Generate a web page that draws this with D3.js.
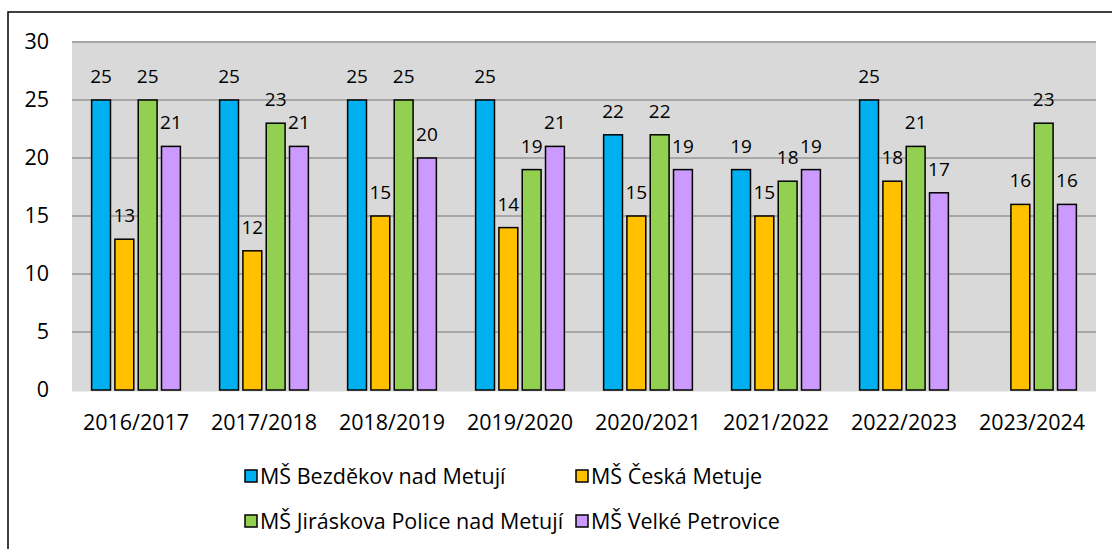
<!DOCTYPE html>
<html>
<head>
<meta charset="utf-8">
<script src="https://cdn.jsdelivr.net/npm/d3@7"></script>
<style>
  body { margin: 0; background: #fff; }
  svg { display: block; font-family: "Open Sans", sans-serif; }
</style>
</head>
<body>
<svg id="chart" width="1112" height="549"></svg>
<script>
// school years on the x axis
var years = ['2016/2017', '2017/2018', '2018/2019', '2019/2020',
             '2020/2021', '2021/2022', '2022/2023', '2023/2024'];

// one array per kindergarten (null = no bar)
var bezdekov = [25, 25, 25, 25, 22, 19, 25, null];
var ceskaMetuje = [13, 12, 15, 14, 15, 15, 18, 16];
var jiraskova = [25, 23, 25, 19, 22, 18, 21, 23];
var velkePetrovice = [21, 21, 20, 21, 19, 19, 17, 16];

var seriesNames = ['MŠ Bezděkov nad Metují', 'MŠ Česká Metuje',
                   'MŠ Jiráskova Police nad Metují', 'MŠ Velké Petrovice'];
var seriesColors = ['#00B0F0', '#FFC000', '#92D050', '#CC99FF'];
var yTicks = [0, 5, 10, 15, 20, 25, 30];

var series = [bezdekov, ceskaMetuje, jiraskova, velkePetrovice];

var svg = d3.select('#chart');

// outer chart frame (runs off the right / bottom edge like the source)
svg.append('rect')
    .attr('x', 8).attr('y', 12)
    .attr('width', 1200).attr('height', 700)
    .attr('fill', 'none')
    .attr('stroke', '#000')
    .attr('stroke-width', 1.5);

var plot = {left: 72, right: 1096, top: 42, bottom: 390};

var x = d3.scaleBand()
    .domain(years)
    .range([plot.left, plot.right])
    .padding(0);

var groupWidth = 93.2;
var xs = d3.scaleBand()
    .domain(d3.range(series.length))
    .range([(x.bandwidth() - groupWidth) / 2, (x.bandwidth() + groupWidth) / 2])
    .paddingInner(0.19)
    .paddingOuter(0.095);

var y = d3.scaleLinear()
    .domain([0, 30])
    .range([plot.bottom, plot.top]);

// plot background
svg.append('rect')
    .attr('x', plot.left).attr('y', plot.top)
    .attr('width', plot.right - plot.left)
    .attr('height', plot.bottom - plot.top + 1.5)
    .attr('fill', '#D9D9D9');

// gridlines
svg.append('g')
    .selectAll('line')
    .data(yTicks.filter(function(d) { return d > 0; }))
    .join('line')
    .attr('x1', plot.left).attr('x2', plot.right)
    .attr('y1', function(d) { return y(d); })
    .attr('y2', function(d) { return y(d); })
    .attr('stroke', '#A6A6A6')
    .attr('stroke-width', 2);

// y axis labels
var yAxis = svg.append('g')
    .attr('transform', 'translate(' + 49 + ',0)')
    .call(d3.axisLeft(y).tickValues(yTicks).tickSize(0).tickPadding(0));
yAxis.select('.domain').remove();
yAxis.selectAll('text')
    .attr('font-size', 21.5)
    .attr('font-family', '"Open Sans", sans-serif')
    .attr('fill', '#000');

// x axis labels
var xAxis = svg.append('g')
    .attr('transform', 'translate(0,' + 415 + ')')
    .call(d3.axisBottom(x).tickSize(0).tickPadding(0));
xAxis.select('.domain').remove();
xAxis.selectAll('text')
    .attr('font-size', 21.5)
    .attr('font-family', '"Open Sans", sans-serif')
    .attr('fill', '#000');

// bars and value labels
var groups = svg.append('g')
    .selectAll('g')
    .data(series)
    .join('g')
    .attr('fill', function(d, i) { return seriesColors[i]; });

groups.each(function(values, si) {
    var pts = values
        .map(function(v, i) { return {year: years[i], value: v}; })
        .filter(function(p) { return p.value !== null; });
    var g = d3.select(this);
    g.selectAll('rect')
        .data(pts)
        .join('rect')
        .attr('x', function(p) { return x(p.year) + xs(si); })
        .attr('y', function(p) { return y(p.value); })
        .attr('width', xs.bandwidth())
        .attr('height', function(p) { return y(0) - y(p.value); })
        .attr('stroke', '#000')
        .attr('stroke-width', 1.5);
    g.selectAll('text')
        .data(pts)
        .join('text')
        .attr('x', function(p) { return x(p.year) + xs(si) + xs.bandwidth() / 2; })
        .attr('y', function(p) { return y(p.value) - 17; })
        .attr('text-anchor', 'middle')
        .attr('font-size', 19)
        .attr('fill', '#000')
        .text(function(p) { return p.value; });
});

// legend, two columns by two rows
var legend = svg.append('g')
    .selectAll('g')
    .data(seriesNames)
    .join('g')
    .attr('transform', function(d, i) {
        var lx = i % 2 === 0 ? 245 : 576;
        var ly = i < 2 ? 476 : 521;
        return 'translate(' + lx + ',' + ly + ')';
    });

legend.append('rect')
    .attr('x', 0).attr('y', -6)
    .attr('width', 12).attr('height', 12)
    .attr('fill', function(d, i) { return seriesColors[i]; })
    .attr('stroke', '#000')
    .attr('stroke-width', 1.5);

legend.append('text')
    .attr('x', 15).attr('y', 0)
    .attr('dy', '0.35em')
    .attr('font-size', 21.5)
    .attr('fill', '#000')
    .text(function(d) { return d; });
</script>
</body>
</html>
